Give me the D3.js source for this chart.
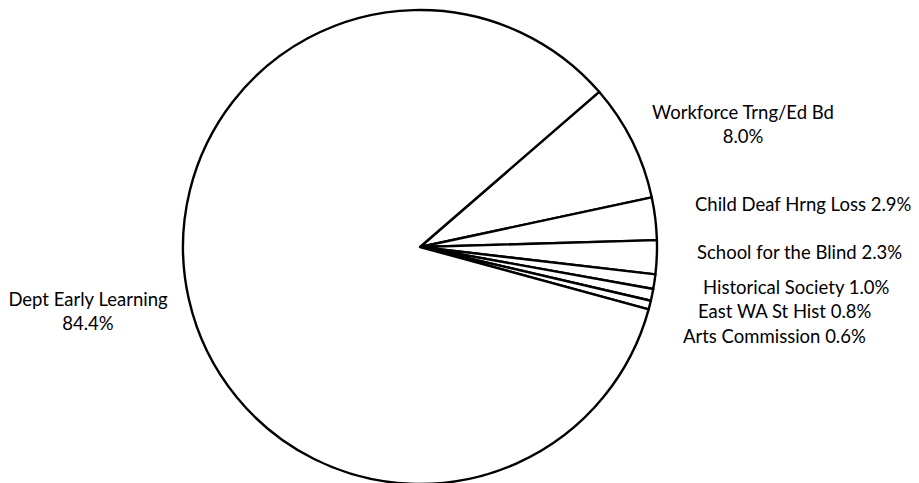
<!DOCTYPE html>
<html>
<head>
<meta charset="utf-8">
<script src="https://cdn.jsdelivr.net/npm/d3@7"></script>
<style>
  html, body { margin: 0; padding: 0; background: #fff; }
  svg { display: block; }
  text { font-family: Lato, "Open Sans", sans-serif; fill: #000; }
</style>
</head>
<body>
<svg id="chart" width="919" height="483"></svg>
<script>
// Share of agency budget, in percent
const categories = [
  "Workforce Trng/Ed Bd",
  "Child Deaf Hrng Loss",
  "School for the Blind",
  "Historical Society",
  "East WA St Hist",
  "Arts Commission",
  "Dept Early Learning"
];
const shares = [8.0, 2.9, 2.3, 1.0, 0.8, 0.6, 84.4];

// Label anchors: [x, y, anchor, two-line?]
const labelLayout = [
  [743, 113, "middle", true],
  [695, 205, "start", false],
  [697, 253, "start", false],
  [703, 288, "start", false],
  [698, 312, "start", false],
  [683, 337, "start", false],
  [88, 300, "middle", true]
];

const width = 919, height = 483;
const cx = 420, cy = 247, radius = 237;
const firstAngle = 49.1 * Math.PI / 180;

const svg = d3.select("#chart");
const g = svg.append("g").attr("transform", `translate(${cx},${cy})`);

const pie = d3.pie()
  .sort(null)
  .value(d => d.value)
  .startAngle(firstAngle)
  .endAngle(firstAngle + 2 * Math.PI);

const arc = d3.arc().innerRadius(0).outerRadius(radius);

const data = categories.map((c, i) => ({ name: c, value: shares[i] }));

g.selectAll("path.slice")
  .data(pie(data))
  .join("path")
  .attr("class", "slice")
  .attr("d", arc)
  .attr("fill", "#fff")
  .attr("stroke", "#000")
  .attr("stroke-width", 2.4)
  .attr("stroke-linejoin", "round");

const fmt = d3.format(".1f");
const labels = svg.append("g").attr("font-size", 18.5);

data.forEach((d, i) => {
  const [x, y, anchor, twoLine] = labelLayout[i];
  const t = labels.append("text")
    .attr("text-anchor", anchor)
    .attr("x", x);
  if (twoLine) {
    t.append("tspan").attr("x", x).attr("y", y).attr("dy", "0.35em").text(d.name);
    t.append("tspan").attr("x", x).attr("y", y + 24).attr("dy", "0.35em").text(fmt(d.value) + "%");
  } else {
    t.attr("y", y).attr("dy", "0.35em").text(d.name + " " + fmt(d.value) + "%");
  }
});
</script>
</body>
</html>
